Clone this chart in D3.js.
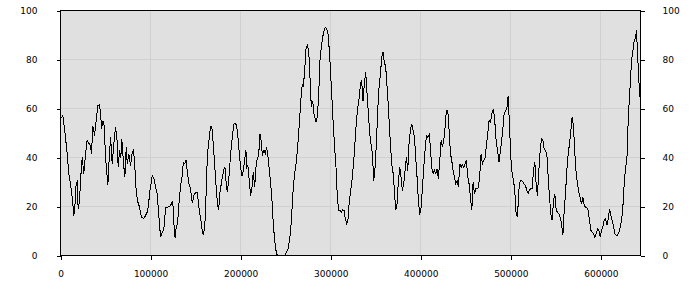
<!DOCTYPE html>
<meta charset="utf-8">
<title>line chart</title>
<style>
body {
  margin: 0;
  background-color: white;
}
svg text {
  font-family: 'DejaVu Sans', sans-serif;
  font-size: 9px;
  fill: #000;
}
</style>
<svg width="700" height="300"></svg>
<script src="https://cdn.jsdelivr.net/npm/d3@7"></script>
<script>
// sample positions and values
var positions = [
  0, 2600, 3700, 5600, 7400, 9300, 11100, 13000, 14800, 15900, 17400, 18500, 19600, 21100, 22200, 24100,
  25900, 27800, 29600, 31500, 33300, 34400, 35900, 37800, 39600, 41500, 43000, 44400, 45600, 47000, 48500,
  50000, 51500, 52600, 53700, 55600, 57400, 59300, 61100, 62600, 64100, 65600, 67000, 68100, 70000, 71500,
  73000, 74100, 75900, 77800, 79600, 81100, 82600, 84100, 85900, 87800, 90000, 92600, 94400, 96300, 97400,
  99300, 101900, 103700, 105600, 107400, 109300, 111100, 113000, 114800, 116700, 118500, 120400, 122200,
  124100, 125200, 126300, 127400, 128500, 130000, 131500, 133300, 135200, 136300, 138100, 139300, 140700,
  142600, 144400, 146300, 148100, 150000, 151900, 153700, 155600, 157400, 158500, 160000, 161100, 162200,
  163700, 165200, 166700, 168100, 169600, 171100, 172600, 174100, 175600, 177000, 178500, 180000, 181500,
  182600, 183700, 185200, 186700, 188100, 189600, 191100, 192600, 194100, 195600, 197000, 198500, 200000,
  201500, 203000, 204400, 205900, 207000, 208100, 209600, 211100, 212600, 214100, 215600, 217000, 218500,
  220000, 221500, 223000, 224100, 225900, 227400, 228900, 230400, 231900, 233300, 234800, 236300, 237800,
  239300, 240700, 245200, 249600, 251100, 252600, 254100, 255600, 257000, 258500, 260000, 261500, 263000,
  264400, 265900, 267400, 268500, 269600, 271100, 272600, 274100, 275600, 277000, 278500, 280000, 281500,
  283700, 285200, 286700, 288100, 289600, 291100, 292600, 294100, 295600, 297000, 298500, 300000, 301500,
  303000, 304400, 305900, 307400, 308900, 310400, 311900, 313300, 314800, 316300, 317800, 319300, 320400,
  322200, 324100, 325900, 327800, 329600, 331500, 333300, 334400, 335900, 337400, 338900, 340400, 341900,
  343300, 344800, 346300, 347800, 349300, 350700, 352200, 353700, 355200, 356700, 358100, 359600, 361100,
  362600, 364100, 365600, 367000, 368500, 369600, 370700, 372200, 373700, 375200, 376700, 378100, 379600,
  381100, 382600, 384100, 385600, 387000, 388500, 390000, 391500, 393000, 394400, 395900, 397400, 398900,
  400400, 401900, 403300, 404800, 406300, 407800, 409300, 410700, 412200, 413700, 415200, 416700, 418100,
  419600, 421100, 422600, 424100, 425600, 427000, 428500, 430000, 431500, 433000, 434400, 435900, 437400,
  438900, 440400, 441900, 443300, 444800, 446300, 447800, 449300, 450700, 452200, 453700, 455200, 456700,
  458100, 459600, 461100, 462600, 464100, 465600, 467000, 468500, 470000, 471500, 473000, 474400, 475900,
  477400, 478900, 480400, 481900, 483700, 485200, 487000, 488900, 490700, 492600, 494100, 495600, 497000,
  498500, 500000, 501500, 503000, 504400, 505900, 507400, 508900, 510400, 511900, 513300, 514800, 516300,
  517800, 519300, 520700, 522200, 523700, 525200, 526700, 528100, 529600, 531100, 532600, 534100, 535600,
  537000, 538500, 540000, 541500, 543000, 544400, 545900, 547400, 548900, 550400, 551900, 553300, 554800,
  556300, 557800, 559300, 560700, 562200, 563700, 565200, 566700, 568100, 569600, 571100, 572600, 574100,
  575600, 577000, 578500, 580000, 581500, 583000, 584400, 585900, 587400, 588900, 590400, 591900, 593300,
  594800, 596300, 597800, 599300, 600700, 602200, 603700, 605200, 606700, 608100, 609600, 611100, 612600,
  614100, 615600, 617000, 618500, 620000, 621500, 623000, 624400, 625900, 627400, 628900, 629600, 631100,
  632600, 634100, 635600, 637000, 638500, 639600, 640700, 642200, 643000, 644000
];
var values = [
  56, 57, 54, 48, 41.6, 33.4, 29, 23.8, 16.3, 19.7, 29.3, 30, 19, 22, 30.6, 40,
  33.4, 41.6, 47, 45.7, 45, 41.6, 53, 49, 55, 61.2, 61.5, 59, 51.7, 55, 53,
  40, 33.4, 28.6, 37.4, 48.3, 37.4, 45.7, 52.4, 48.3, 36, 43, 40, 47.6, 37.4, 32,
  44.4, 37.4, 41.6, 36.7, 42.2, 43, 36, 25.8, 21.8, 19.7, 15.4, 15.2, 16.3, 17.7, 19.7,
  26.5, 32.6, 31.3, 27.9, 25.2, 15.6, 7.5, 9.5, 10.9, 19.7, 19.7, 20, 20.4,
  21.8, 19.7, 10.2, 7, 11.6, 13, 21, 28.6, 32.6, 38, 37.4, 39, 34.6,
  29.2, 27.2, 21.3, 24.5, 25.8, 25.8, 19.7, 15, 10.2, 8.2, 11.6, 17, 33.4,
  43, 48.3, 52.7, 52.4, 45.7, 37.4, 29.2, 21.8, 18.4, 25.8, 29.2, 32.6, 35.4,
  36, 30.6, 25.8, 30.6, 37.4, 44.2, 49.7, 53.7, 54, 53, 48.3, 41.6, 36,
  32.6, 34.6, 38.8, 43, 36, 36.7, 30.6, 24.5, 27.9, 34, 27.9, 36, 39.5,
  40.8, 49.7, 46.3, 40.8, 43, 41.6, 44.2, 40.1, 34.6, 29.9, 22.4, 12.9, 6.1,
  2, 0, 0, 0, 1.7, 2.7, 6.1, 10.2, 18.4, 27.9, 33.4, 37.4, 43,
  49.7, 57.8, 66, 70, 68.7, 75.5, 84.4, 85.7, 83.7, 72.8, 60.5, 63.2, 57.8,
  54.4, 56.5, 66, 79.6, 85, 89.1, 91.8, 93.2, 92.5, 90.5, 83.7, 74.1, 63.2,
  52.4, 44.2, 36, 23.8, 18.4, 18.4, 17.7, 18.6, 18.4, 15, 12.9, 15, 21,
  26.5, 32, 40, 51, 59, 63.9, 70.7, 71.4, 63.2, 70, 74.8, 66, 57.8,
  49.7, 45.6, 41.6, 30.6, 36, 45.6, 59, 68.7, 74, 80.9, 83, 78.9, 76.9,
  68.7, 60.5, 49.7, 41.6, 34.7, 33.4, 26.5, 18.4, 21, 30.6, 36, 32, 26.5,
  29.2, 34.7, 40, 34.7, 45.6, 51, 53.7, 51, 48.3, 40, 32, 22.4, 16.7,
  19.7, 27.9, 36, 42.9, 49, 48.3, 49.4, 44.2, 36, 33.4, 34.7, 33.4, 35.4,
  31.3, 38.8, 47, 44.2, 47, 52.4, 59.2, 59.2, 51, 41.6, 38.8, 34.7, 32,
  29.2, 30.6, 27.9, 37.4, 36, 37, 36, 37.4, 38.8, 32, 29.2, 23.8, 18.4,
  29.9, 25.2, 27.2, 27.2, 27.9, 33.4, 41.6, 37.4, 38.8, 40, 45.6, 49.7, 55.1,
  54.4, 57.8, 59.6, 56.5, 46.9, 42.9, 38.1, 44.2, 49.7, 57.8, 59.2, 59.9, 64.9,
  53.7, 40, 33.3, 30.6, 26.5, 17, 15.6, 26.5, 30.6, 30.6, 30, 29.2, 28.5,
  26.5, 25.2, 26.8, 27.2, 27.2, 34.7, 38.1, 29.2, 24.5, 34.7, 42.9, 47.6, 47,
  43.5, 42.9, 41.6, 32, 23.8, 17, 14.3, 22.4, 25.2, 18.4, 17.7, 17, 15.6,
  12.9, 8.2, 18.4, 25.2, 34.7, 41.6, 45.6, 51, 56.7, 52.4, 41.6, 33.4, 29.2,
  25.8, 23.8, 21, 23.8, 20.4, 19.7, 19.7, 18.4, 14.3, 10.2, 9.5, 8.8, 7.5,
  8.8, 10.9, 10.2, 7.5, 10.2, 11.6, 14.3, 15, 12.3, 15, 19, 16.3, 14.3,
  11.6, 8.8, 8.2, 8.2, 9.5, 11.6, 14.3, 19.7, 29.2, 36, 38.8, 48.3, 60.5,
  70, 79.6, 83.7, 87.7, 89, 92.1, 82.3, 71.4, 66, 63.2
];
var xTicks = [0, 100000, 200000, 300000, 400000, 500000, 600000];
var yTicks = [0, 20, 40, 60, 80, 100];
var xMax = 644000;

var margin = {top: 10, right: 60, bottom: 45, left: 60},
    width = 700 - margin.left - margin.right,
    height = 300 - margin.top - margin.bottom;

var data = positions.map(function(p, i) { return {x: p, y: values[i]}; });

var svg = d3.select("svg");
var g = svg.append("g")
    .attr("transform", "translate(" + (margin.left + 0.5) + "," + (margin.top + 0.5) + ")");

var x = d3.scaleLinear().domain([0, xMax]).range([0, width]);
var y = d3.scaleLinear().domain([0, 100]).range([height, 0]);

g.append("rect")
    .attr("width", width)
    .attr("height", height)
    .attr("fill", "#e0e0e0");

// grid
g.selectAll(".hgrid")
  .data(yTicks.slice(1, -1))
  .enter().append("line")
    .attr("x1", 0).attr("x2", width)
    .attr("y1", function(d) { return y(d); })
    .attr("y2", function(d) { return y(d); })
    .attr("stroke", "#d0d0d0")
    .attr("shape-rendering", "crispEdges");

g.selectAll(".vgrid")
  .data(xTicks.slice(1))
  .enter().append("line")
    .attr("y1", 0).attr("y2", height)
    .attr("x1", function(d) { return x(d); })
    .attr("x2", function(d) { return x(d); })
    .attr("stroke", "#d0d0d0")
    .attr("shape-rendering", "crispEdges");

var line = d3.line()
    .x(function(d) { return x(d.x); })
    .y(function(d) { return y(d.y); });

g.append("path")
    .datum(data)
    .attr("d", line)
    .attr("fill", "none")
    .attr("stroke", "#000")
    .attr("stroke-width", 1)
    .attr("shape-rendering", "crispEdges");

g.append("rect")
    .attr("width", width)
    .attr("height", height)
    .attr("fill", "none")
    .attr("stroke", "#000")
    .attr("shape-rendering", "crispEdges");

g.append("g")
    .call(d3.axisLeft(y).tickValues(yTicks).tickSize(4).tickPadding(19))
    .call(function(a) { a.select(".domain").remove(); });

g.append("g")
    .attr("transform", "translate(" + width + ",0)")
    .call(d3.axisRight(y).tickValues(yTicks).tickSize(4).tickPadding(18))
    .call(function(a) { a.select(".domain").remove(); });

g.append("g")
    .attr("transform", "translate(0," + height + ")")
    .call(d3.axisBottom(x).tickValues(xTicks).tickFormat(d3.format("d")).tickSize(4).tickPadding(11))
    .call(function(a) { a.select(".domain").remove(); });

g.selectAll(".tick line").attr("shape-rendering", "crispEdges");
g.selectAll(".tick text").attr("font-family", null).attr("font-size", null);
</script>
